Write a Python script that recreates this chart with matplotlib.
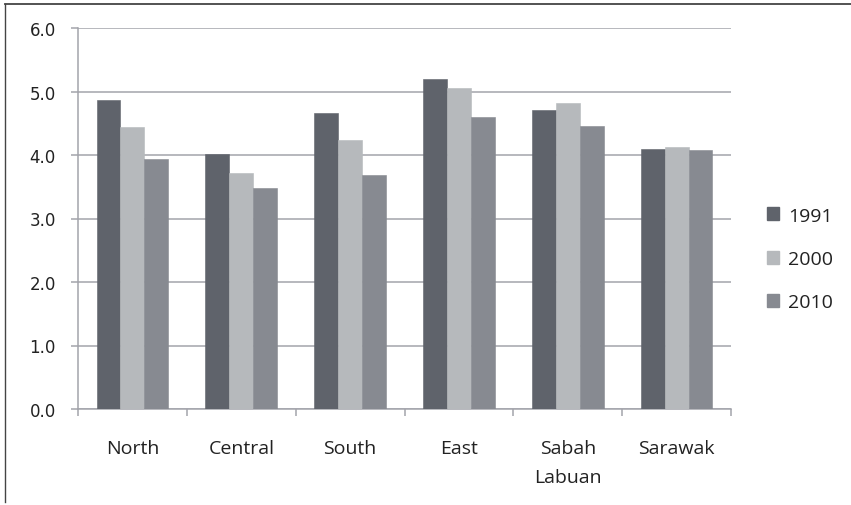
import matplotlib
matplotlib.use("Agg")
import matplotlib.pyplot as plt
from matplotlib.lines import Line2D
import numpy as np

regions = ["North", "Central", "South", "East", "Sabah\nLabuan", "Sarawak"]
years = ["1991", "2000", "2010"]
v1991 = [4.87, 4.02, 4.66, 5.19, 4.71, 4.09]
v2000 = [4.44, 3.72, 4.24, 5.05, 4.82, 4.13]
v2010 = [3.94, 3.48, 3.68, 4.60, 4.46, 4.08]
y_ticks = [0.0, 1.0, 2.0, 3.0, 4.0, 5.0, 6.0]

series = [v1991, v2000, v2010]
colors = ["#5F636B", "#B6B9BC", "#878A91"]
grid_color = "#A3A4AB"
text_color = "#222222"

plt.rcParams["font.family"] = ["Open Sans", "DejaVu Sans"]

fig = plt.figure(figsize=(8.51, 5.06), dpi=100)
ax = fig.add_axes([78 / 851, 1 - 410 / 506, (731 - 78) / 851, (410 - 29) / 506])

x = np.arange(len(regions))
w = 0.22
for i, (vals, c) in enumerate(zip(series, colors)):
    ax.bar(x + (i - 1) * w, vals, width=w, color=c, label=years[i],
           edgecolor=c, linewidth=0.4, zorder=3)

ax.set_xlim(-0.5, len(regions) - 0.5)
ax.set_ylim(0, 6)
ax.set_yticks(y_ticks)
ax.set_yticklabels([f"{t:.1f}" for t in y_ticks], fontsize=12,
                   color=text_color, family="DejaVu Sans")
ax.yaxis.grid(True, color=grid_color, linewidth=1.1, zorder=0)
ax.tick_params(axis="y", length=5, color=grid_color, width=1.1, pad=11)

# category labels centred, tick marks on category boundaries
ax.set_xticks(x)
ax.set_xticklabels(regions, fontsize=14, color=text_color, linespacing=1.8)
ax.tick_params(axis="x", length=0, pad=21.5)
ax.set_xticks(np.arange(-0.5, len(regions)), minor=True)
ax.tick_params(axis="x", which="minor", length=5, color=grid_color, width=1.1)

for s in ["top", "right"]:
    ax.spines[s].set_visible(False)
for s in ["left", "bottom"]:
    ax.spines[s].set_color(grid_color)
    ax.spines[s].set_linewidth(1.1)

handles = [plt.Rectangle((0, 0), 1, 1, color=c) for c in colors]
fig.legend(handles, years, loc="center left", bbox_to_anchor=(749 / 851, 1 - 260 / 506),
           frameon=False, fontsize=14, handlelength=0.65, handleheight=0.65,
           labelspacing=1.3, handletextpad=0.45, labelcolor=text_color)

# outer frame lines along the top and left edges
fig.add_artist(Line2D([5 / 851, 1], [1 - 4.5 / 506, 1 - 4.5 / 506],
                      transform=fig.transFigure, color="#444444", linewidth=1.3))
fig.add_artist(Line2D([5 / 851, 5 / 851], [1 - 4.5 / 506, 1 - 503 / 506],
                      transform=fig.transFigure, color="#444444", linewidth=1.0))

fig.savefig("out.png", dpi=100, facecolor="white")
